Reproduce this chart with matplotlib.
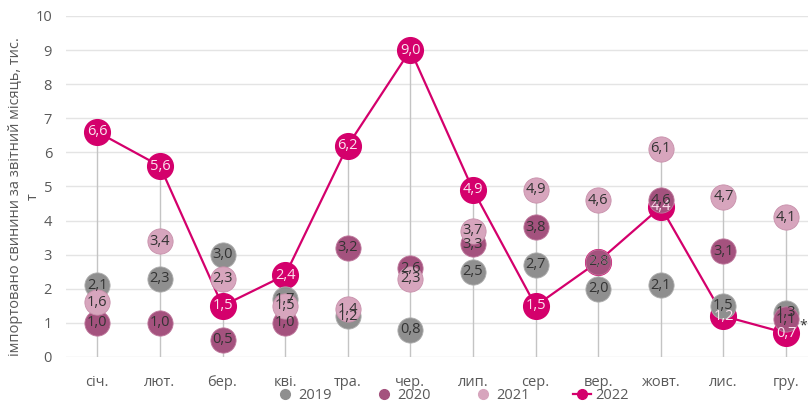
import numpy as np
import matplotlib.pyplot as plt
from matplotlib.lines import Line2D

plt.rcParams["font.family"] = ["Open Sans", "DejaVu Sans"]

months = ["січ.", "лют.", "бер.", "кві.", "тра.", "чер.",
          "лип.", "сер.", "вер.", "жовт.", "лис.", "гру."]
v2019 = [2.1, 2.3, 3.0, 1.7, 1.2, 0.8, 2.5, 2.7, 2.0, 2.1, 1.5, 1.3]
v2020 = [1.0, 1.0, 0.5, 1.0, 3.2, 2.6, 3.3, 3.8, 2.8, 4.6, 3.1, 1.1]
v2021 = [1.6, 3.4, 2.3, 1.5, 1.4, 2.3, 3.7, 4.9, 4.6, 6.1, 4.7, 4.1]
v2022 = [6.6, 5.6, 1.5, 2.4, 6.2, 9.0, 4.9, 1.5, 2.8, 4.4, 1.2, 0.7]

c2019 = "#8f8f8f"
c2020 = "#a4527e"
c2021 = "#d7a5bd"
c2022 = "#d4006c"
text_grey = "#595959"


def fmt(v):
    return f"{v:.1f}".replace(".", ",")


fig = plt.figure(figsize=(8.08, 4.05), dpi=100)
ax = fig.add_axes([66 / 808, 48 / 405, 742 / 808, 341 / 405])

x = np.arange(len(months))
all_vals = np.array([v2019, v2020, v2021, v2022])

# drop lines from the highest value of each month
ax.vlines(x, 0, all_vals.max(axis=0), color="#c4c4c4", lw=1, zorder=1)

ax.plot(x, v2022, color=c2022, lw=1.6, marker="o", markersize=18.5,
        markeredgecolor=c2022, zorder=2, clip_on=False)
ax.scatter(x, v2019, s=330, color=c2019, edgecolor="#b0b0b0", lw=0.6, zorder=3)
ax.scatter(x, v2020, s=330, color=c2020, edgecolor="#c07a9e", lw=0.6, zorder=4)
ax.scatter(x, v2021, s=330, color=c2021, edgecolor="#c890ab", lw=0.6, zorder=5)

# 2022 labels first, so where two years share a value the darker label wins
for vals, tc in [(v2022, "#fbe3ee"), (v2019, "#333333"),
                 (v2020, "#333333"), (v2021, "#333333")]:
    for xi, v in zip(x, vals):
        ax.text(xi, v, fmt(v), ha="center", va="center", fontsize=10.5,
                color=tc, zorder=10)

ax.annotate("*", (x[-1], v2022[-1]), xytext=(12, 5), textcoords="offset points",
            ha="center", va="center", fontsize=10, color="#333333", zorder=10)

ax.set_xlim(-0.5, 11.35)
ax.set_ylim(0, 10)
ax.set_yticks(range(0, 11))
ax.set_xticks(x)
ax.set_xticklabels(months)
ax.tick_params(axis="both", length=0, labelsize=10.5, colors=text_grey)
ax.tick_params(axis="x", pad=13)
ax.tick_params(axis="y", pad=10)
ax.grid(axis="y", color="#e4e4e4", lw=1)
ax.set_axisbelow(True)
for s in ax.spines.values():
    s.set_visible(False)

fig.text(0.03, 0.515, "імпортовано свинини за звітний місяць, тис.\nт",
         rotation=90, ha="center", va="center", fontsize=10.5,
         color=text_grey, multialignment="center")

handles = [
    Line2D([], [], marker="o", ls="none", color=c2019, markersize=7),
    Line2D([], [], marker="o", ls="none", color=c2020, markersize=7),
    Line2D([], [], marker="o", ls="none", color=c2021, markersize=7),
    Line2D([], [], marker="o", color=c2022, lw=1.6, markersize=7),
]
fig.legend(handles, ["2019", "2020", "2021", "2022"], ncol=4,
           loc="center", bbox_to_anchor=(0.56, 0.024), frameon=False,
           fontsize=10.5, labelcolor=text_grey, columnspacing=3.0,
           handletextpad=0.3, handlelength=1.2, borderpad=0)

plt.savefig("out.png", dpi=100)
plt.close()
